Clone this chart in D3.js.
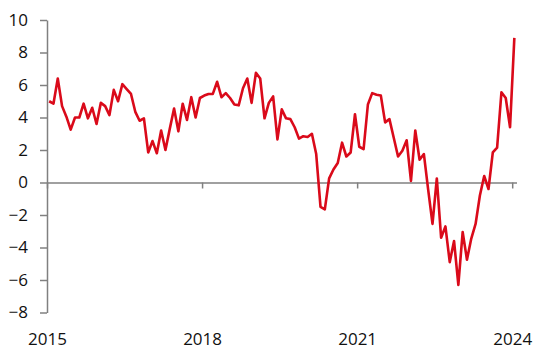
<!DOCTYPE html>
<html>
<head>
<meta charset="utf-8">
<script src="https://cdn.jsdelivr.net/npm/d3@7"></script>
<style>
  body { margin: 0; background: #fff; }
  #chart text { font-family: "Open Sans", sans-serif; font-size: 17px; fill: #111; }
</style>
</head>
<body>
<div id="chart"></div>
<script>
// monthly values, Jan 2015 .. Jan 2024
var values = [
  5.0, 4.85, 6.4, 4.7, 4.05, 3.25, 4.0, 4.0, 4.85, 3.95, 4.6, 3.6,
  4.9, 4.7, 4.15, 5.7, 5.0, 6.05, 5.75, 5.45, 4.35, 3.8, 3.95, 1.85,
  2.55, 1.8, 3.2, 2.0, 3.3, 4.55, 3.15, 4.85, 3.85, 5.25, 4.0, 5.2,
  5.35, 5.45, 5.45, 6.2, 5.25, 5.5, 5.2, 4.8, 4.75, 5.8, 6.4, 4.9,
  6.75, 6.4, 3.95, 4.9, 5.3, 2.65, 4.5, 3.95, 3.9, 3.4, 2.7, 2.85,
  2.8, 3.0, 1.75, -1.5, -1.65, 0.25, 0.8, 1.2, 2.45, 1.6, 1.85, 4.2,
  2.2, 2.05, 4.8, 5.5, 5.4, 5.35, 3.7, 3.9, 2.75, 1.6, 1.95, 2.6,
  0.1, 3.2, 1.4, 1.75, -0.45, -2.55, 0.25, -3.4, -2.7, -4.9, -3.6, -6.3,
  -3.05, -4.75, -3.45, -2.55, -0.8, 0.4, -0.4, 1.85, 2.15, 5.55, 5.2, 3.4,
  8.9
];
var tickMonths = [0, 36, 72, 108];
var tickLabels = ["2015", "2018", "2021", "2024"];
var yTicks = [-8, -6, -4, -2, 0, 2, 4, 6, 8, 10];

var width = 550, height = 362;
var plotLeft = 47, plotRight = 516.5, plotTop = 20, plotBottom = 312.5;

var svg = d3.select("#chart").append("svg")
  .attr("width", width)
  .attr("height", height);

var x = d3.scaleLinear().domain([0, 109]).range([plotLeft, plotRight]);
var y = d3.scaleLinear().domain([-8, 10]).range([plotBottom, plotTop]);

// y axis
var yAxis = svg.append("g")
  .attr("transform", "translate(" + plotLeft + ",0)")
  .call(d3.axisLeft(y).tickValues(yTicks).tickSize(7).tickSizeOuter(0).tickPadding(12));
yAxis.selectAll("path, line").attr("stroke", "#808080").attr("stroke-width", 1.5);

// zero line with year ticks
var xAxis = svg.append("g")
  .attr("transform", "translate(0," + y(0) + ")")
  .call(d3.axisBottom(x).tickValues(tickMonths).tickSize(6).tickSizeOuter(0).tickFormat(""));
xAxis.selectAll("path, line").attr("stroke", "#808080").attr("stroke-width", 1.5);

// year labels at the bottom
var xLabels = svg.append("g")
  .attr("transform", "translate(0," + 333 + ")")
  .call(d3.axisBottom(x).tickValues(tickMonths).tickSize(0).tickPadding(0)
    .tickFormat(function(d, i) { return tickLabels[i]; }));
xLabels.select(".domain").remove();
xLabels.selectAll("text").attr("dy", "0.71em");

// the line
svg.append("path")
  .datum(values)
  .attr("fill", "none")
  .attr("stroke", "#DA0A1A")
  .attr("stroke-width", 2.6)
  .attr("stroke-linejoin", "round")
  .attr("d", d3.line()
    .x(function(d, i) { return x(i + 0.5); })
    .y(function(d) { return y(d); }));

svg.selectAll("text").style("font-family", "'Open Sans', sans-serif").style("font-size", "17px").attr("fill", "#111");
</script>
</body>
</html>
